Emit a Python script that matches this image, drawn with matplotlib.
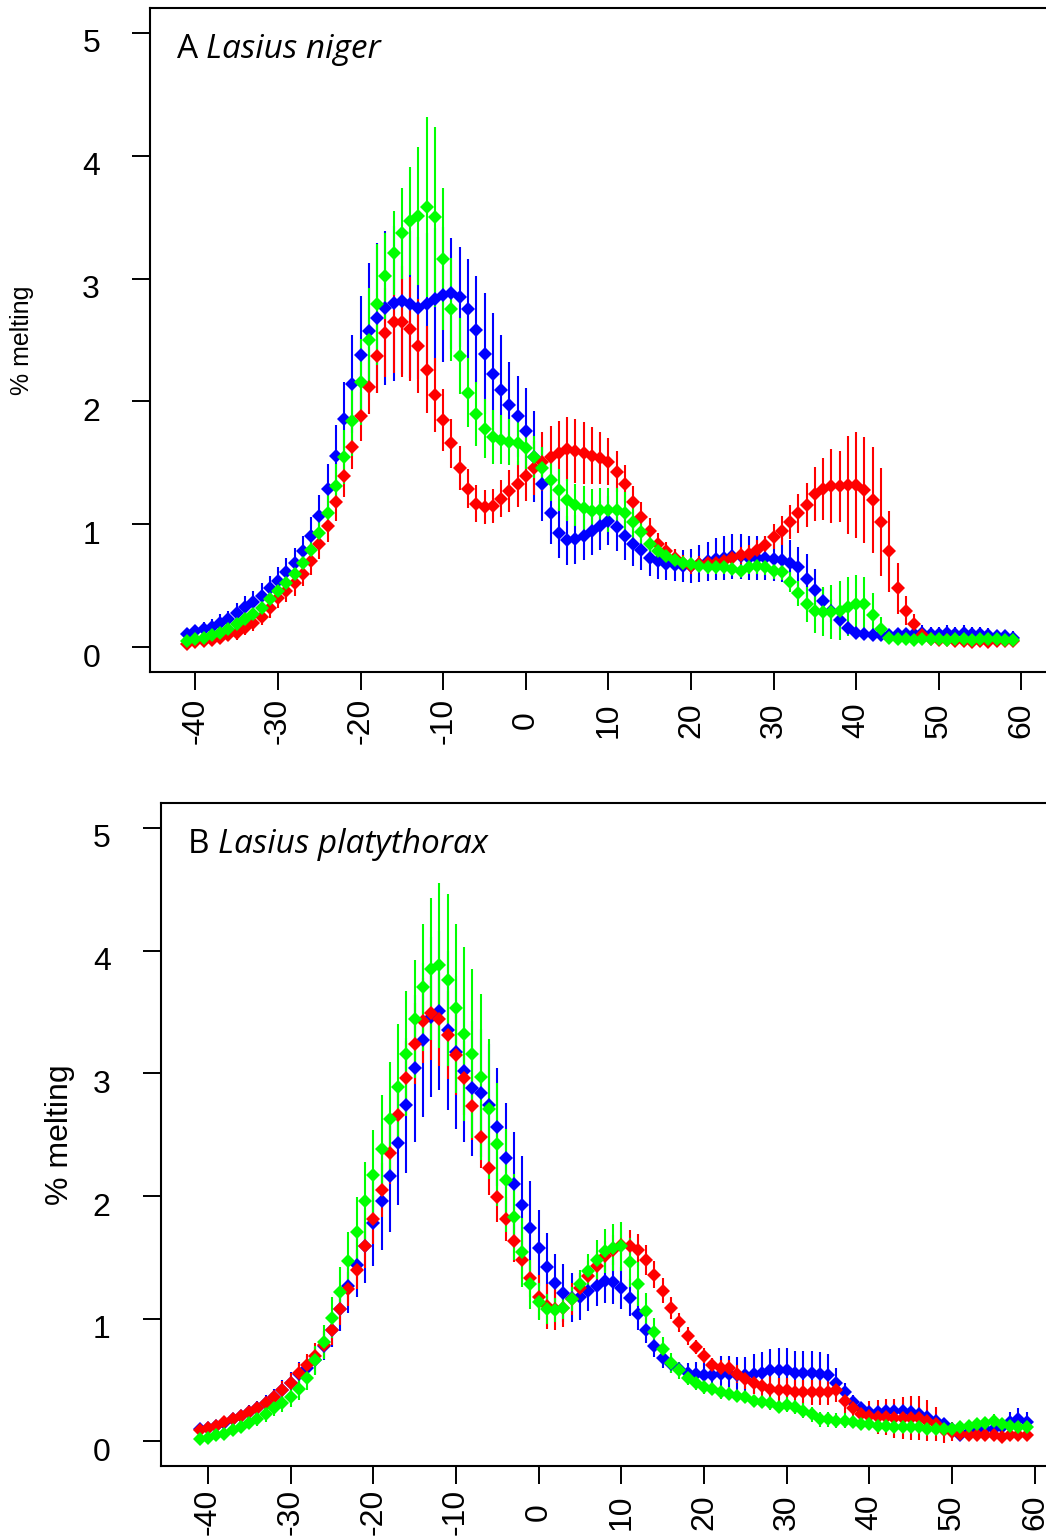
import numpy as np
import matplotlib
matplotlib.use("Agg")
import matplotlib.pyplot as plt
from matplotlib.transforms import ScaledTranslation

plt.rcParams['font.family'] = ['Liberation Sans', 'DejaVu Sans']

# Temperature bins (x axis)
TEMPS = np.arange(-41, 60)
X_TICKS = [-40, -30, -20, -10, 0, 10, 20, 30, 40, 50, 60]
Y_TICKS = [0, 1, 2, 3, 4, 5]

# Panel A - Lasius niger
A_BLUE = [0.11, 0.13, 0.15, 0.17, 0.20, 0.23, 0.28, 0.33, 0.37, 0.42, 0.48, 0.54, 0.61, 0.69,
          0.78, 0.91, 1.07, 1.29, 1.56, 1.86, 2.14, 2.38, 2.57, 2.68, 2.76, 2.80, 2.82, 2.79,
          2.76, 2.79, 2.83, 2.87, 2.88, 2.85, 2.75, 2.58, 2.39, 2.22, 2.09, 1.97, 1.88, 1.76,
          1.55, 1.33, 1.09, 0.93, 0.87, 0.88, 0.91, 0.95, 0.99, 1.03, 0.98, 0.91, 0.84, 0.79,
          0.73, 0.70, 0.68, 0.67, 0.66, 0.66, 0.68, 0.70, 0.72, 0.73, 0.74, 0.74, 0.73, 0.73,
          0.73, 0.72, 0.71, 0.69, 0.65, 0.56, 0.47, 0.38, 0.30, 0.22, 0.16, 0.12, 0.11, 0.10,
          0.10, 0.10, 0.11, 0.11, 0.11, 0.12, 0.11, 0.11, 0.12, 0.11, 0.12, 0.11, 0.11, 0.10,
          0.09, 0.09, 0.08]
A_BLUE_ERR = [0.05, 0.05, 0.06, 0.06, 0.07, 0.07, 0.08, 0.09, 0.09, 0.10, 0.10, 0.11, 0.12, 0.12,
              0.13, 0.15, 0.17, 0.20, 0.25, 0.30, 0.40, 0.48, 0.56, 0.61, 0.63, 0.63, 0.60, 0.60,
              0.58, 0.58, 0.58, 0.55, 0.45, 0.41, 0.41, 0.44, 0.49, 0.50, 0.45, 0.35, 0.33, 0.35,
              0.37, 0.30, 0.25, 0.20, 0.20, 0.20, 0.20, 0.20, 0.20, 0.20, 0.20, 0.20, 0.18, 0.16,
              0.15, 0.14, 0.13, 0.13, 0.13, 0.14, 0.15, 0.16, 0.17, 0.18, 0.18, 0.18, 0.18, 0.18,
              0.18, 0.18, 0.18, 0.18, 0.17, 0.20, 0.17, 0.10, 0.09, 0.08, 0.06, 0.05, 0.05, 0.05,
              0.05, 0.05, 0.05, 0.05, 0.06, 0.06, 0.06, 0.06, 0.06, 0.06, 0.06, 0.06, 0.06, 0.06,
              0.05, 0.05, 0.05]
A_RED = [0.03, 0.04, 0.05, 0.06, 0.08, 0.10, 0.12, 0.16, 0.20, 0.25, 0.32, 0.40, 0.46, 0.52,
         0.60, 0.70, 0.84, 0.99, 1.18, 1.39, 1.63, 1.88, 2.12, 2.37, 2.56, 2.65, 2.65, 2.59,
         2.45, 2.26, 2.05, 1.85, 1.66, 1.46, 1.29, 1.17, 1.14, 1.15, 1.21, 1.27, 1.33, 1.39,
         1.46, 1.51, 1.55, 1.58, 1.61, 1.60, 1.58, 1.56, 1.54, 1.51, 1.43, 1.33, 1.18, 1.06,
         0.95, 0.84, 0.78, 0.73, 0.69, 0.66, 0.68, 0.69, 0.69, 0.70, 0.73, 0.75, 0.76, 0.79,
         0.83, 0.90, 0.95, 1.02, 1.09, 1.16, 1.25, 1.29, 1.31, 1.31, 1.32, 1.32, 1.28, 1.20,
         1.02, 0.78, 0.48, 0.30, 0.19, 0.10, 0.07, 0.06, 0.06, 0.05, 0.05, 0.04, 0.05, 0.04,
         0.05, 0.05, 0.05]
A_RED_ERR = [0.04, 0.04, 0.04, 0.05, 0.05, 0.05, 0.06, 0.06, 0.07, 0.07, 0.08, 0.08, 0.09, 0.10,
             0.10, 0.11, 0.12, 0.13, 0.15, 0.17, 0.18, 0.20, 0.22, 0.30, 0.36, 0.42, 0.45, 0.42,
             0.38, 0.35, 0.30, 0.25, 0.20, 0.18, 0.16, 0.15, 0.14, 0.14, 0.15, 0.17, 0.19, 0.20,
             0.22, 0.24, 0.25, 0.26, 0.26, 0.26, 0.25, 0.23, 0.21, 0.19, 0.17, 0.15, 0.13, 0.12,
             0.10, 0.09, 0.08, 0.07, 0.06, 0.06, 0.06, 0.06, 0.06, 0.06, 0.06, 0.07, 0.07, 0.08,
             0.08, 0.10, 0.12, 0.14, 0.16, 0.18, 0.22, 0.25, 0.30, 0.29, 0.40, 0.43, 0.43, 0.43,
             0.44, 0.33, 0.21, 0.12, 0.08, 0.05, 0.04, 0.04, 0.04, 0.04, 0.04, 0.04, 0.04, 0.04,
             0.04, 0.04, 0.04]
A_GREEN = [0.05, 0.07, 0.08, 0.10, 0.12, 0.15, 0.19, 0.23, 0.27, 0.32, 0.39, 0.46, 0.52, 0.60,
           0.69, 0.79, 0.93, 1.09, 1.31, 1.55, 1.84, 2.16, 2.50, 2.79, 3.02, 3.21, 3.37, 3.47,
           3.51, 3.58, 3.50, 3.16, 2.75, 2.37, 2.07, 1.90, 1.78, 1.71, 1.69, 1.67, 1.66, 1.62,
           1.55, 1.46, 1.36, 1.28, 1.20, 1.16, 1.13, 1.11, 1.12, 1.12, 1.12, 1.09, 1.02, 0.94,
           0.84, 0.78, 0.74, 0.71, 0.69, 0.68, 0.66, 0.65, 0.65, 0.65, 0.64, 0.62, 0.65, 0.66,
           0.65, 0.62, 0.61, 0.53, 0.44, 0.35, 0.30, 0.29, 0.29, 0.30, 0.33, 0.35, 0.35, 0.26,
           0.15, 0.08, 0.07, 0.07, 0.06, 0.07, 0.07, 0.07, 0.06, 0.07, 0.07, 0.06, 0.07, 0.07,
           0.07, 0.06, 0.06]
A_GREEN_ERR = [0.03, 0.03, 0.04, 0.04, 0.04, 0.05, 0.05, 0.06, 0.06, 0.07, 0.07, 0.08, 0.08, 0.09,
               0.10, 0.11, 0.12, 0.15, 0.18, 0.22, 0.28, 0.35, 0.42, 0.49, 0.35, 0.34, 0.37, 0.44,
               0.56, 0.73, 0.73, 0.58, 0.42, 0.31, 0.28, 0.26, 0.24, 0.22, 0.20, 0.19, 0.18, 0.17,
               0.17, 0.17, 0.17, 0.17, 0.17, 0.17, 0.18, 0.18, 0.18, 0.18, 0.18, 0.17, 0.16, 0.14,
               0.12, 0.10, 0.08, 0.06, 0.05, 0.05, 0.05, 0.05, 0.05, 0.05, 0.05, 0.05, 0.05, 0.06,
               0.06, 0.06, 0.06, 0.08, 0.10, 0.14, 0.18, 0.20, 0.22, 0.24, 0.24, 0.24, 0.22, 0.18,
               0.10, 0.05, 0.04, 0.04, 0.04, 0.04, 0.04, 0.04, 0.04, 0.04, 0.04, 0.04, 0.04, 0.04,
               0.04, 0.04, 0.04]

# Panel B - Lasius platythorax
B_BLUE = [0.10, 0.11, 0.13, 0.15, 0.18, 0.21, 0.24, 0.27, 0.31, 0.36, 0.42, 0.48, 0.55, 0.60,
          0.66, 0.78, 0.91, 1.08, 1.27, 1.44, 1.59, 1.78, 1.96, 2.16, 2.43, 2.74, 3.04, 3.27,
          3.46, 3.51, 3.35, 3.17, 3.02, 2.88, 2.84, 2.74, 2.56, 2.31, 2.10, 1.93, 1.74, 1.58,
          1.42, 1.29, 1.21, 1.17, 1.18, 1.23, 1.27, 1.31, 1.30, 1.25, 1.17, 1.04, 0.91, 0.78,
          0.68, 0.63, 0.59, 0.56, 0.55, 0.54, 0.54, 0.55, 0.55, 0.54, 0.54, 0.55, 0.56, 0.58,
          0.58, 0.58, 0.56, 0.56, 0.56, 0.55, 0.54, 0.48, 0.40, 0.32, 0.27, 0.24, 0.24, 0.25,
          0.25, 0.25, 0.24, 0.22, 0.20, 0.17, 0.14, 0.10, 0.05, 0.08, 0.09, 0.10, 0.10, 0.12,
          0.16, 0.18, 0.16]
B_BLUE_ERR = [0.04, 0.04, 0.04, 0.05, 0.05, 0.05, 0.06, 0.06, 0.07, 0.07, 0.08, 0.09, 0.10, 0.10,
              0.11, 0.12, 0.14, 0.18, 0.22, 0.26, 0.30, 0.35, 0.40, 0.45, 0.50, 0.55, 0.60, 0.63,
              0.65, 0.65, 0.65, 0.62, 0.58, 0.55, 0.52, 0.50, 0.48, 0.45, 0.42, 0.40, 0.38, 0.31,
              0.28, 0.24, 0.24, 0.20, 0.19, 0.17, 0.17, 0.18, 0.18, 0.17, 0.15, 0.13, 0.11, 0.09,
              0.08, 0.07, 0.06, 0.08, 0.10, 0.13, 0.14, 0.15, 0.15, 0.15, 0.15, 0.16, 0.17, 0.17,
              0.18, 0.18, 0.18, 0.18, 0.18, 0.18, 0.17, 0.12, 0.08, 0.06, 0.05, 0.05, 0.06, 0.06,
              0.06, 0.06, 0.06, 0.06, 0.06, 0.05, 0.05, 0.04, 0.03, 0.03, 0.03, 0.04, 0.04, 0.05,
              0.08, 0.09, 0.08]
B_RED = [0.09, 0.11, 0.13, 0.16, 0.18, 0.21, 0.24, 0.27, 0.31, 0.36, 0.42, 0.48, 0.56, 0.62,
         0.70, 0.79, 0.91, 1.08, 1.24, 1.40, 1.59, 1.81, 2.05, 2.35, 2.66, 2.96, 3.24, 3.43,
         3.49, 3.44, 3.31, 3.15, 2.96, 2.73, 2.48, 2.23, 1.99, 1.81, 1.63, 1.48, 1.33, 1.18,
         1.10, 1.08, 1.09, 1.16, 1.25, 1.35, 1.43, 1.51, 1.56, 1.60, 1.59, 1.56, 1.48, 1.36,
         1.23, 1.09, 0.97, 0.86, 0.77, 0.70, 0.62, 0.60, 0.60, 0.55, 0.51, 0.48, 0.45, 0.43,
         0.42, 0.42, 0.40, 0.40, 0.40, 0.40, 0.40, 0.42, 0.33, 0.27, 0.22, 0.21, 0.20, 0.20,
         0.19, 0.19, 0.19, 0.19, 0.17, 0.14, 0.09, 0.08, 0.06, 0.05, 0.05, 0.05, 0.05, 0.04,
         0.05, 0.05, 0.05]
B_RED_ERR = [0.03, 0.03, 0.03, 0.04, 0.04, 0.04, 0.05, 0.05, 0.06, 0.06, 0.07, 0.08, 0.08, 0.09,
             0.10, 0.11, 0.12, 0.13, 0.14, 0.16, 0.18, 0.20, 0.22, 0.25, 0.28, 0.30, 0.33, 0.35,
             0.38, 0.38, 0.36, 0.33, 0.30, 0.27, 0.25, 0.22, 0.20, 0.18, 0.17, 0.16, 0.15, 0.18,
             0.18, 0.17, 0.16, 0.13, 0.12, 0.12, 0.12, 0.12, 0.12, 0.12, 0.13, 0.13, 0.12, 0.11,
             0.10, 0.09, 0.08, 0.07, 0.06, 0.06, 0.06, 0.06, 0.06, 0.07, 0.08, 0.09, 0.10, 0.10,
             0.10, 0.10, 0.10, 0.10, 0.10, 0.10, 0.10, 0.10, 0.10, 0.10, 0.10, 0.12, 0.14, 0.15,
             0.16, 0.17, 0.18, 0.18, 0.17, 0.14, 0.10, 0.08, 0.06, 0.05, 0.05, 0.05, 0.04, 0.04,
             0.04, 0.04, 0.04]
B_GREEN = [0.02, 0.03, 0.05, 0.06, 0.09, 0.12, 0.15, 0.18, 0.22, 0.27, 0.31, 0.36, 0.43, 0.52,
           0.66, 0.81, 1.01, 1.22, 1.47, 1.71, 1.96, 2.17, 2.38, 2.63, 2.89, 3.16, 3.44, 3.70,
           3.85, 3.88, 3.76, 3.53, 3.32, 3.16, 2.97, 2.71, 2.42, 2.13, 1.83, 1.54, 1.28, 1.14,
           1.08, 1.07, 1.09, 1.16, 1.28, 1.39, 1.48, 1.55, 1.58, 1.59, 1.46, 1.28, 1.06, 0.89,
           0.75, 0.64, 0.58, 0.52, 0.48, 0.44, 0.43, 0.40, 0.39, 0.37, 0.36, 0.33, 0.32, 0.31,
           0.28, 0.30, 0.28, 0.25, 0.22, 0.18, 0.18, 0.17, 0.17, 0.16, 0.14, 0.14, 0.13, 0.13,
           0.12, 0.12, 0.12, 0.12, 0.10, 0.10, 0.10, 0.10, 0.12, 0.13, 0.14, 0.15, 0.17, 0.14,
           0.13, 0.12, 0.12]
B_GREEN_ERR = [0.03, 0.03, 0.03, 0.04, 0.04, 0.04, 0.05, 0.05, 0.06, 0.06, 0.07, 0.08, 0.09, 0.10,
               0.12, 0.14, 0.17, 0.20, 0.24, 0.28, 0.32, 0.37, 0.44, 0.46, 0.51, 0.51, 0.48, 0.52,
               0.58, 0.67, 0.70, 0.69, 0.71, 0.69, 0.68, 0.57, 0.50, 0.42, 0.35, 0.28, 0.20, 0.15,
               0.12, 0.10, 0.09, 0.10, 0.12, 0.14, 0.16, 0.18, 0.19, 0.20, 0.20, 0.18, 0.15, 0.12,
               0.10, 0.08, 0.07, 0.06, 0.06, 0.05, 0.05, 0.05, 0.05, 0.05, 0.05, 0.05, 0.05, 0.05,
               0.05, 0.06, 0.06, 0.06, 0.06, 0.06, 0.06, 0.06, 0.06, 0.05, 0.05, 0.05, 0.05, 0.05,
               0.05, 0.05, 0.05, 0.05, 0.04, 0.04, 0.04, 0.04, 0.04, 0.04, 0.04, 0.05, 0.05, 0.05,
               0.04, 0.04, 0.04]

TITLE_FONT = ['Open Sans', 'Lato', 'DejaVu Sans']


def drawPanel(ax, series, letter, species, xmin, xPad, ylabSize, ylabX):
    # Each series: colour, values, error
    for colour, vals, err in series:
        ax.errorbar(TEMPS, vals, yerr=err, fmt='D', color=colour, ecolor=colour,
                    markersize=7.2, markeredgewidth=0, elinewidth=1.5,
                    capsize=2.0, capthick=1.5)

    ax.set_xlim(xmin, 63)
    ax.set_ylim(-0.2, 5.2)
    ax.set_xticks(X_TICKS)
    ax.set_yticks(Y_TICKS)
    ax.set_xticklabels([str(t) for t in X_TICKS], rotation=90, va='center')
    ax.tick_params(axis='x', direction='out', length=13, width=1.4,
                   labelsize=23, pad=xPad)
    ax.tick_params(axis='y', direction='out', length=13, width=1.4,
                   labelsize=23, pad=23)
    # y labels sit a little below their ticks in the original
    shift = ScaledTranslation(0, -0.08, ax.figure.dpi_scale_trans)
    for lab in ax.get_yticklabels():
        lab.set_transform(lab.get_transform() + shift)
    for sp in ax.spines.values():
        sp.set_linewidth(1.5)
    ax.spines['right'].set_visible(False)

    ax.set_ylabel('% melting', fontsize=ylabSize, va='center')
    ax.yaxis.set_label_coords(ylabX, 0.5)

    # Panel title: upright letter followed by italic species name
    t = ax.text(0.030, 0.925, letter, transform=ax.transAxes, fontsize=24,
                family=TITLE_FONT, va='baseline', ha='left')
    ax.annotate(species, xy=(1, 0), xycoords=t, xytext=(6, 0),
                textcoords='offset points', fontsize=24, fontstyle='italic',
                family=TITLE_FONT, va='bottom', ha='left')


fig = plt.figure(figsize=(10.46, 15.40), dpi=100)

axA = fig.add_axes([150 / 1046, 1 - 672 / 1540, 896.2 / 1046, 664 / 1540])
drawPanel(axA, [('#0000ff', A_BLUE, A_BLUE_ERR), ('#ff0000', A_RED, A_RED_ERR),
                ('#00ff00', A_GREEN, A_GREEN_ERR)],
          'A', 'Lasius niger', -45.5, 22, 18, -0.143)

axB = fig.add_axes([160.7 / 1046, 1 - 1466 / 1540, 899 / 1046, 662.7 / 1540])
drawPanel(axB, [('#0000ff', B_BLUE, B_BLUE_ERR), ('#ff0000', B_RED, B_RED_ERR),
                ('#00ff00', B_GREEN, B_GREEN_ERR)],
          'B', 'Lasius platythorax', -45.7, 20, 23, -0.112)

fig.savefig('out.png', dpi=100)
